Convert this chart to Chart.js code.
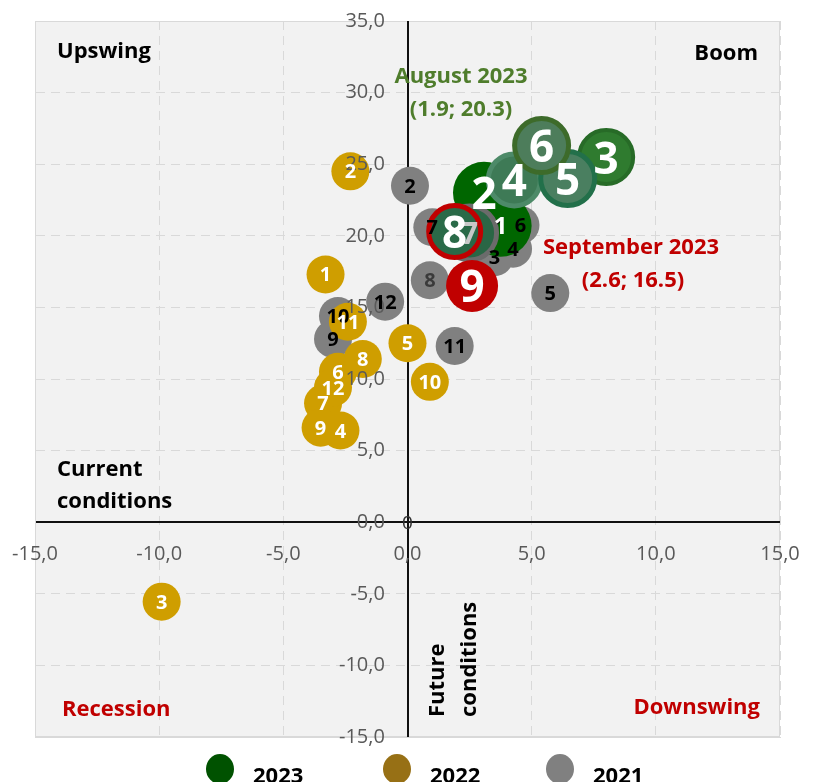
<!DOCTYPE html>
<html>
<head>
<meta charset="utf-8">
<title>Business cycle clock</title>
<script src="https://cdn.jsdelivr.net/npm/chart.js@4.4.0/dist/chart.umd.min.js"></script>
<style>
  html, body { margin: 0; padding: 0; background: #fff; overflow: hidden; }
  #wrap { width: 817px; height: 782px; position: relative; }
</style>
</head>
<body>
<div id="wrap"><canvas id="cycle-chart"></canvas></div>
<script>
// ---- Data: x = current conditions, y = future conditions (one point per month)
const xTickValues = [-15, -10, -5, 0, 5, 10, 15];
const yTickValues = [-15, -10, -5, 0, 5, 10, 15, 20, 25, 30, 35];

const months2023 = ['1', '2', '3', '4', '5', '6', '7', '8', '9'];
const x2023 = [3.75, 3.08, 8.0, 4.3, 6.45, 5.4, 2.5, 1.9, 2.6];
const y2023 = [20.7, 23.0, 25.5, 23.9, 24.0, 26.3, 20.2, 20.3, 16.5];
const r2023 = [31, 31, 27, 26, 27, 27, 27, 26, 26];

const months2022 = ['1', '2', '3', '4', '5', '6', '7', '8', '9', '10', '11', '12'];
const x2022 = [-3.3, -2.3, -9.9, -2.7, 0.0, -2.8, -3.4, -1.8, -3.5, 0.9, -2.4, -3.0];
const y2022 = [17.3, 24.5, -5.55, 6.4, 12.5, 10.5, 8.3, 11.4, 6.6, 9.8, 14.0, 9.4];

const months2021 = ['1', '2', '3', '4', '5', '6', '7', '8', '9', '10', '11', '12'];
const x2021 = [3.75, 0.1, 3.5, 4.25, 5.75, 4.55, 1.0, 0.9, -3.0, -2.8, 1.9, -0.9];
const y2021 = [20.7, 23.5, 18.5, 19.1, 16.0, 20.75, 20.6, 16.9, 12.8, 14.4, 12.3, 15.4];

// ---- Styles
const fill2023 = ['#006600', '#006600', '#2f7b2f', '#3e7a56', '#4a7f60', '#4d7d5b', '#2a6645', '#2a6a48', '#c00000'];
const border2023 = ['#006600', '#006600', '#276b27', '#4d8a68', '#22704a', '#3d6b2a', '#6b6b6b', '#c00000', '#c00000'];
const borderWidth2023 = [0, 0, 4, 5, 5, 5, 5, 5, 0];
const labelSize2023 = [24, 44, 44, 44, 44, 44, 30, 44, 44];
const labelColor2023 = ['#fff', '#fff', '#fff', '#fff', '#fff', '#fff', '#c8c8c8', '#fff', '#fff'];

const FONT = "'Open Sans', sans-serif";
Chart.defaults.font.family = FONT;

const fmtTick = v => Number(v).toFixed(1).replace('.', ',');

function toPoints(xs, ys, rs) {
  return xs.map((x, i) => rs ? { x, y: ys[i], r: rs[i] } : { x, y: ys[i] });
}

// plot area background + frame
const plotFrame = {
  id: 'plotFrame',
  beforeDraw(chart) {
    const { ctx, chartArea: a } = chart;
    ctx.save();
    ctx.fillStyle = '#fff';
    ctx.fillRect(0, 0, chart.width, chart.height);
    ctx.fillStyle = '#f2f2f2';
    ctx.fillRect(a.left, a.top, a.width, a.height);
    ctx.strokeStyle = '#d9d9d9';
    ctx.lineWidth = 1;
    ctx.strokeRect(a.left + 0.5, a.top + 0.5, a.width - 1, a.height - 1);
    ctx.restore();
  }
};

// centred text with real glyph metrics
function centeredText(ctx, text, x, y) {
  const m = ctx.measureText(text);
  ctx.fillText(text, x, y + (m.actualBoundingBoxAscent - m.actualBoundingBoxDescent) / 2);
}

// numbers inside the bubbles, drawn on top of everything
const bubbleLabels = {
  id: 'bubbleLabels',
  afterDraw(chart) {
    const ctx = chart.ctx;
    ctx.save();
    ctx.textAlign = 'center';
    ctx.textBaseline = 'alphabetic';
    for (let d = chart.data.datasets.length - 1; d >= 0; d--) {
      const ds = chart.data.datasets[d];
      const meta = chart.getDatasetMeta(d);
      meta.data.forEach((el, i) => {
        const size = Array.isArray(ds.labelSize) ? ds.labelSize[i] : ds.labelSize;
        const color = Array.isArray(ds.labelColor) ? ds.labelColor[i] : ds.labelColor;
        ctx.font = `${ds.labelWeight} ${size}px ${FONT}`;
        ctx.fillStyle = color;
        centeredText(ctx, ds.names[i], el.x, el.y);
      });
    }
    ctx.restore();
  }
};

// quadrant names, axis names and call-outs
const notes = [
  { text: 'Upswing', x: 57, y: 52, align: 'left', color: '#000' },
  { text: 'Boom', x: 758, y: 52, align: 'right', color: '#000' },
  { text: 'Current', x: 57, y: 468, align: 'left', color: '#000' },
  { text: 'conditions', x: 57, y: 500, align: 'left', color: '#000' },
  { text: 'Recession', x: 62, y: 708, align: 'left', color: '#c00000' },
  { text: 'Downswing', x: 760, y: 708, align: 'right', color: '#c00000' },
  { text: 'August 2023', x: 461, y: 78, align: 'center', color: '#4f7d2c' },
  { text: '(1.9; 20.3)', x: 461, y: 110, align: 'center', color: '#4f7d2c' },
  { text: 'September 2023', x: 631, y: 248, align: 'center', color: '#c00000' },
  { text: '(2.6; 16.5)', x: 633, y: 281, align: 'center', color: '#c00000' }
];

const annotations = {
  id: 'annotations',
  afterDraw(chart) {
    const ctx = chart.ctx;
    ctx.save();
    ctx.font = `bold 22px ${FONT}`;
    ctx.textBaseline = 'alphabetic';
    notes.forEach(n => {
      ctx.fillStyle = n.color;
      ctx.textAlign = n.align;
      centeredText(ctx, n.text, n.x, n.y);
    });
    // rotated y-axis name
    ctx.fillStyle = '#000';
    ctx.textAlign = 'left';
    [['Future', 436], ['conditions', 468]].forEach(([t, x]) => {
      ctx.save();
      ctx.translate(x, 717);
      ctx.rotate(-Math.PI / 2);
      centeredText(ctx, t, 0, 0);
      ctx.restore();
    });
    ctx.restore();
  }
};

// legend under the plot (Excel style, wide spacing)
const legendX = [220, 397, 560];
const yearLegend = {
  id: 'yearLegend',
  afterDraw(chart) {
    const ctx = chart.ctx;
    ctx.save();
    ctx.font = `bold 22px ${FONT}`;
    ctx.textAlign = 'left';
    ctx.textBaseline = 'alphabetic';
    chart.data.datasets.filter(ds => ds.legendColor).forEach((ds, i) => {
      const cx = legendX[i];
      ctx.fillStyle = ds.legendColor;
      ctx.beginPath();
      ctx.ellipse(cx, 769, 14, 15, 0, 0, Math.PI * 2);
      ctx.fill();
      ctx.fillStyle = '#000';
      ctx.fillText(ds.label, cx + 33, 783);
    });
    ctx.restore();
  }
};

const zeroOr = (a, b) => ctx => (ctx.tick && ctx.tick.value === 0 ? a : b);

// axes take no room of their own: the labels sit next to the zero lines
function noRoom(s) {
  if (s.isHorizontal()) s.height = 0; else s.width = 0;
  s.paddingTop = s.paddingBottom = s.paddingLeft = s.paddingRight = 0;
}

new Chart(document.getElementById('cycle-chart'), {
  type: 'bubble',
  data: {
    datasets: [
      {
        label: '2023',
        data: toPoints(x2023, y2023, r2023),
        names: months2023,
        backgroundColor: fill2023,
        borderColor: border2023,
        borderWidth: borderWidth2023,
        labelSize: labelSize2023,
        labelColor: labelColor2023,
        labelWeight: 'bold',
        legendColor: '#005200'
      },
      {
        label: '2022',
        data: toPoints(x2022, y2022),
        names: months2022,
        radius: 19,
        backgroundColor: '#cf9e00',
        borderWidth: 0,
        labelSize: 20,
        labelColor: '#fff',
        labelWeight: 'bold',
        legendColor: '#977015'
      },
      {
        label: '2021',
        data: toPoints(x2021, y2021),
        names: months2021,
        radius: 19,
        backgroundColor: '#808080',
        borderWidth: 0,
        labelSize: 20,
        labelColor: months2021.map(m => (m === '8' ? '#3a3a3a' : '#000')),
        labelWeight: 'bold',
        legendColor: '#808080'
      },
      {
        label: 'origin',
        data: [{ x: 0, y: 0 }],
        names: ['0'],
        radius: 0,
        borderWidth: 0,
        labelSize: 19,
        labelColor: '#333',
        labelWeight: 'normal'
      }
    ]
  },
  options: {
    responsive: true,
    maintainAspectRatio: false,
    animation: false,
    events: [],
    layout: { autoPadding: false, padding: { left: 35, right: 37, top: 21, bottom: 45 } },
    plugins: { legend: { display: false }, tooltip: { enabled: false } },
    scales: {
      x: {
        type: 'linear',
        position: 'bottom',
        min: -15,
        max: 15,
        afterBuildTicks: s => { s.ticks = xTickValues.map(value => ({ value })); },
        afterFit: noRoom,
        grid: { drawTicks: false, color: zeroOr('#111', '#d9d9d9'), lineWidth: zeroOr(2, 1) },
        border: { color: '#d9d9d9', dash: zeroOr([], [9, 6]) },
        ticks: {
          mirror: true, padding: 171, color: '#595959', font: { size: 20 }, z: 1,
          autoSkip: false, maxRotation: 0, callback: fmtTick
        }
      },
      y: {
        type: 'linear',
        position: 'left',
        min: -15,
        max: 35,
        afterBuildTicks: s => { s.ticks = yTickValues.map(value => ({ value })); },
        afterFit: noRoom,
        grid: { drawTicks: false, color: zeroOr('#111', '#d9d9d9'), lineWidth: zeroOr(2, 1) },
        border: { color: '#d9d9d9', dash: zeroOr([], [9, 6]) },
        ticks: {
          mirror: true, crossAlign: 'far', padding: 304, color: '#595959', font: { size: 20 }, z: 1,
          autoSkip: false, callback: fmtTick
        }
      }
    }
  },
  plugins: [plotFrame, bubbleLabels, annotations, yearLegend]
});
</script>
</body>
</html>
